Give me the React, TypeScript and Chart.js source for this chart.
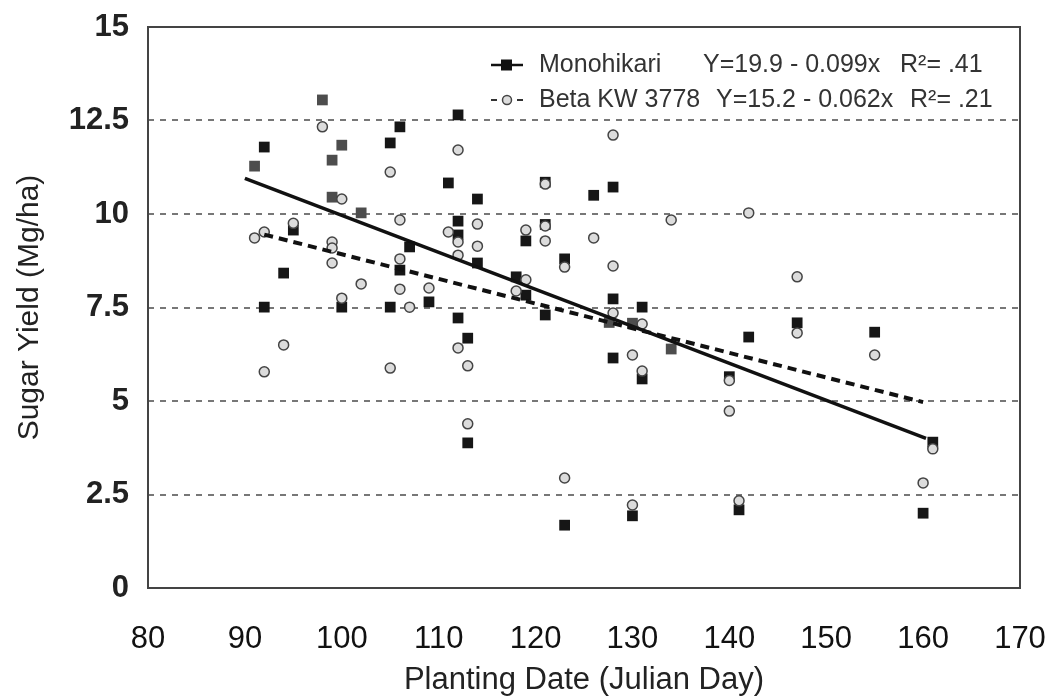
import React, { useEffect, useRef } from 'react';
import { Chart, registerables } from 'chart.js';

Chart.register(...registerables);

// ---- tick labels ----
const xTickValues = [80, 90, 100, 110, 120, 130, 140, 150, 160, 170];
const yTickValues = [0, 2.5, 5, 7.5, 10, 12.5, 15];

// ---- Monohikari (black squares) ----
const monoDays = [106, 92, 105, 95, 107, 106, 94, 92, 100, 105, 112, 111, 114, 126, 128, 121, 121, 112, 112, 119, 123, 114, 118, 119, 109, 112, 121, 128, 131, 113, 128, 131, 113, 130, 123, 140, 142, 147, 155, 161, 160, 141];
const monoYield = [12.33, 11.79, 11.9, 9.57, 9.12, 8.5, 8.42, 7.51, 7.51, 7.51, 12.65, 10.83, 10.4, 10.5, 10.72, 10.85, 9.72, 9.81, 9.44, 9.28, 8.8, 8.69, 8.32, 7.83, 7.65, 7.22, 7.3, 7.73, 7.51, 6.68, 6.15, 5.59, 3.88, 1.93, 1.68, 5.65, 6.71, 7.09, 6.84, 3.9, 2.0, 2.09];
// Monohikari points that are printed in a lighter (grey) shade
const monoGreyDays = [98, 100, 91, 99, 99, 102, 127.6, 130, 134];
const monoGreyYield = [13.05, 11.84, 11.28, 11.44, 10.45, 10.03, 7.1, 7.08, 6.39];

// ---- Beta KW 3778 (open circles) ----
const betaDays = [98, 105, 100, 95, 106, 92, 91, 99, 99, 99, 106, 102, 106, 100, 107, 94, 92, 105, 112, 128, 121, 111, 112, 114, 114, 112, 119, 121, 121, 126, 128, 123, 119, 118, 109, 128, 112, 113, 130, 131, 131, 113, 123, 130, 134, 142, 147, 140, 140, 141, 147, 155, 161, 160];
const betaYield = [12.33, 11.12, 10.4, 9.75, 9.84, 9.52, 9.36, 9.25, 9.09, 8.69, 8.8, 8.13, 7.99, 7.75, 7.51, 6.5, 5.78, 5.88, 11.71, 12.11, 10.8, 9.52, 9.25, 9.73, 9.14, 8.9, 9.57, 9.68, 9.28, 9.36, 8.61, 8.58, 8.24, 7.94, 8.02, 7.35, 6.42, 5.94, 6.23, 5.8, 7.06, 4.39, 2.94, 2.22, 9.84, 10.03, 8.32, 5.55, 4.73, 2.33, 6.82, 6.23, 3.72, 2.81];

// ---- regression lines (as drawn) ----
const monoFitDays = [90, 160.3];
const monoFitYield = [10.95, 4.0];
const betaFitDays = [92, 160];
const betaFitYield = [9.45, 4.97];

// ---- legend text ----
const seriesNames = ['Monohikari', 'Beta KW 3778'];
const seriesEquations = ['Y=19.9 - 0.099x', 'Y=15.2 - 0.062x'];
const seriesR2 = ['R\u00B2= .41', 'R\u00B2= .21'];

const FONT = "'Liberation Sans', Arial, Helvetica, sans-serif";

const zip = (xs: number[], ys: number[]) => xs.map((x, i) => ({ x, y: ys[i] }));

const boxPlugin = {
  id: 'plotBox',
  afterDraw(chart: any) {
    const { ctx, chartArea } = chart;
    const { left, right, top, bottom } = chartArea;
    ctx.save();
    ctx.strokeStyle = '#444';
    ctx.lineWidth = 2;
    ctx.strokeRect(left, top, right - left, bottom - top);
    ctx.restore();
  },
};

const legendPlugin = {
  id: 'customLegend',
  afterDraw(chart: any) {
    const { ctx } = chart;
    ctx.save();
    ctx.font = `25px ${FONT}`;
    ctx.fillStyle = '#333';
    ctx.textBaseline = 'middle';
    const rowsY = [65, 100];
    const eqX = [703, 716];
    const r2X = [900, 910];
    // row 1 marker: solid line + square
    ctx.strokeStyle = '#111';
    ctx.lineWidth = 2.5;
    ctx.beginPath();
    ctx.moveTo(491, rowsY[0]);
    ctx.lineTo(523, rowsY[0]);
    ctx.stroke();
    ctx.fillStyle = '#111';
    ctx.fillRect(501, rowsY[0] - 5.5, 11, 11);
    // row 2 marker: dashed line + circle
    ctx.lineWidth = 2;
    ctx.strokeStyle = '#333';
    ctx.beginPath();
    ctx.moveTo(491, rowsY[1]);
    ctx.lineTo(497, rowsY[1]);
    ctx.moveTo(517, rowsY[1]);
    ctx.lineTo(523, rowsY[1]);
    ctx.stroke();
    ctx.beginPath();
    ctx.arc(507, rowsY[1], 4.5, 0, Math.PI * 2);
    ctx.fillStyle = '#ddd';
    ctx.fill();
    ctx.lineWidth = 1.5;
    ctx.strokeStyle = '#444';
    ctx.stroke();
    ctx.fillStyle = '#333';
    for (let i = 0; i < 2; i++) {
      ctx.fillText(seriesNames[i], 539, rowsY[i]);
      ctx.fillText(seriesEquations[i], eqX[i], rowsY[i]);
      ctx.fillText(seriesR2[i], r2X[i], rowsY[i]);
    }
    ctx.restore();
  },
};

export default function App() {
  const canvasRef = useRef<HTMLCanvasElement | null>(null);

  useEffect(() => {
    document.body.style.margin = '0';
    const canvas = canvasRef.current;
    if (!canvas) return;
    const chart = new Chart(canvas, {
      type: 'scatter',
      data: {
        datasets: [
          {
            label: 'Monohikari fit',
            data: zip(monoFitDays, monoFitYield),
            showLine: true,
            borderColor: '#111',
            borderWidth: 3.5,
            pointRadius: 0,
            fill: false,
          },
          {
            label: 'Beta fit',
            data: zip(betaFitDays, betaFitYield),
            showLine: true,
            borderColor: '#111',
            borderWidth: 4,
            borderDash: [9, 6],
            pointRadius: 0,
            fill: false,
          },
          {
            label: seriesNames[1],
            data: zip(betaDays, betaYield),
            pointStyle: 'circle',
            pointRadius: 5,
            pointBackgroundColor: '#dcdcdc',
            pointBorderColor: '#444',
            pointBorderWidth: 1.5,
          },
          {
            label: seriesNames[0],
            data: zip(monoDays, monoYield),
            pointStyle: 'rect',
            pointRadius: 7.6,
            pointBackgroundColor: '#161616',
            pointBorderColor: '#161616',
            pointBorderWidth: 0,
          },
          {
            label: seriesNames[0] + ' (grey)',
            data: zip(monoGreyDays, monoGreyYield),
            pointStyle: 'rect',
            pointRadius: 7.6,
            pointBackgroundColor: '#4d4d4d',
            pointBorderColor: '#4d4d4d',
            pointBorderWidth: 0,
          },
        ],
      },
      options: {
        responsive: false,
        animation: false,
        events: [],
        layout: { padding: { top: 27, right: 38, left: 0, bottom: 0 } },
        plugins: {
          legend: { display: false },
          tooltip: { enabled: false },
        },
        scales: {
          x: {
            type: 'linear',
            min: 80,
            max: 170,
            afterBuildTicks: (s: any) => {
              s.ticks = xTickValues.map((v) => ({ value: v }));
            },
            afterFit: (s: any) => {
              s.height = 112;
              s.paddingLeft = 0;
              s.paddingRight = 0;
            },
            grid: { display: false, drawTicks: false },
            border: { display: false },
            ticks: {
              font: { family: FONT, size: 31 },
              color: '#111',
              padding: 33,
              maxRotation: 0,
            },
            title: {
              display: true,
              text: 'Planting Date (Julian Day)',
              font: { family: FONT, size: 31 },
              color: '#222',
              padding: { top: 0, bottom: 1 },
            },
          },
          y: {
            type: 'linear',
            min: 0,
            max: 15,
            afterBuildTicks: (s: any) => {
              s.ticks = yTickValues.map((v) => ({ value: v }));
            },
            afterFit: (s: any) => {
              s.width = 148;
              s.paddingTop = 0;
              s.paddingBottom = 0;
            },
            grid: { color: '#777', lineWidth: 2, drawTicks: false },
            border: { display: false, dash: [6, 6] },
            ticks: {
              font: { family: FONT, size: 31, weight: 'bold' },
              color: '#222',
              padding: 19,
              callback: (v: any) => String(v),
            },
            title: {
              display: true,
              text: 'Sugar Yield (Mg/ha)',
              font: { family: FONT, size: 30 },
              color: '#222',
              padding: { top: 12, bottom: 0 },
            },
          },
        },
      },
      plugins: [boxPlugin, legendPlugin],
    } as any);
    return () => chart.destroy();
  }, []);

  return (
    <div style={{ position: 'absolute', left: 0, top: 0, width: 1058, height: 700, background: '#fff' }}>
      <canvas ref={canvasRef} width={1058} height={700} />
    </div>
  );
}
